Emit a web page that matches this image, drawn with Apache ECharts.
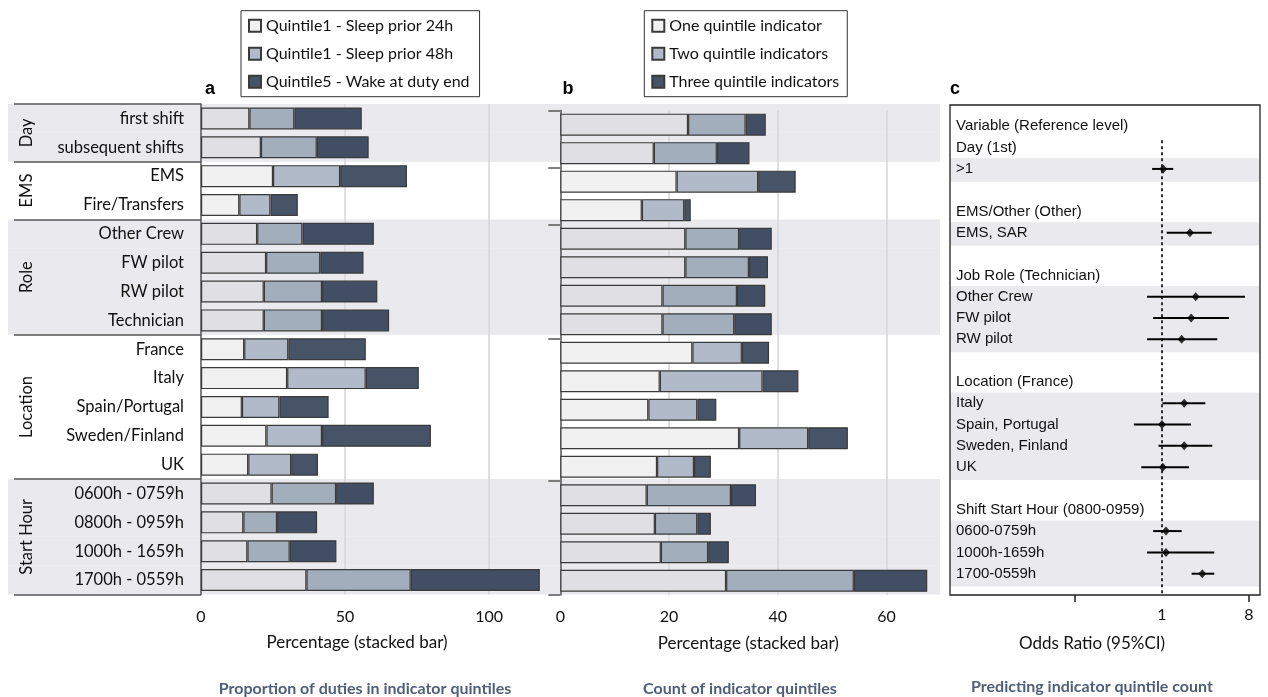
<!DOCTYPE html>
<html>
<head>
<meta charset="utf-8">
<script src="https://cdn.jsdelivr.net/npm/echarts@6/dist/echarts.min.js"></script>
<style>
  html, body { margin: 0; padding: 0; background: #ffffff; }
  #chart { width: 1268px; height: 697px; }
</style>
</head>
<body>
<div id="chart"></div>
<script>
// ---- Row categories and their groups (panels a and b) ----
const categories = [
  'first shift', 'subsequent shifts',
  'EMS', 'Fire/Transfers',
  'Other Crew', 'FW pilot', 'RW pilot', 'Technician',
  'France', 'Italy', 'Spain/Portugal', 'Sweden/Finland', 'UK',
  '0600h - 0759h', '0800h - 0959h', '1000h - 1659h', '1700h - 0559h'
];
const groupNames = ['Day', 'EMS', 'Role', 'Location', 'Start Hour'];
const groupSizes = [2, 2, 4, 5, 4];

// ---- Panel a: proportion of duties in indicator quintiles (%) ----
const seriesNamesA = ['Quintile1 - Sleep prior 24h', 'Quintile1 - Sleep prior 48h', 'Quintile5 - Wake at duty end'];
const sleep24 = [16.8, 20.8, 25.0, 13.3, 19.5, 22.6, 21.8, 21.8, 15.0, 29.9, 14.2, 22.7, 16.4, 24.5, 14.7, 16.1, 36.6];
const sleep48 = [15.6, 19.4, 23.3, 10.8, 15.7, 18.8, 20.2, 20.2, 15.3, 27.3, 13.0, 19.3, 14.9, 22.4, 11.7, 14.7, 36.2];
const wakeEnd = [23.4, 18.0, 23.2, 9.5, 24.8, 15.0, 19.2, 23.3, 26.9, 18.4, 17.1, 37.8, 9.3, 13.1, 13.9, 16.2, 44.8];

// ---- Panel b: count of indicator quintiles (%) ----
const seriesNamesB = ['One quintile indicator', 'Two quintile indicators', 'Three quintile indicators'];
const oneInd = [23.5, 17.2, 21.4, 15.0, 23.0, 23.0, 18.8, 18.8, 24.3, 18.3, 16.2, 32.9, 17.8, 15.9, 17.4, 18.5, 30.5];
const twoInd = [10.6, 11.6, 15.0, 7.8, 9.9, 11.7, 13.7, 13.2, 9.1, 18.9, 9.0, 12.7, 6.8, 15.5, 7.8, 8.7, 23.5];
const threeInd = [3.7, 6.0, 6.9, 1.2, 6.0, 3.5, 5.2, 6.9, 5.0, 6.6, 3.5, 7.3, 3.1, 4.6, 2.5, 3.8, 13.5];

// ---- Panel c: odds ratios (95% CI) ----
const orLabels = [
  'Variable (Reference level)',
  'Day (1st)', '>1', '',
  'EMS/Other (Other)', 'EMS, SAR', '',
  'Job Role (Technician)', 'Other Crew', 'FW pilot', 'RW pilot', '',
  'Location (France)', 'Italy', 'Spain, Portugal', 'Sweden, Finland', 'UK', '',
  'Shift Start Hour (0800-0959)', '0600-0759h', '1000h-1659h', '1700-0559h'
];
const orTerms = ['>1', 'EMS, SAR', 'Other Crew', 'FW pilot', 'RW pilot', 'Italy', 'Spain, Portugal',
  'Sweden, Finland', 'UK', '0600-0759h', '1000h-1659h', '1700-0559h'];
const orPoint = [1.03, 1.95, 2.24, 2.01, 1.60, 1.70, 1.00, 1.70, 1.02, 1.10, 1.10, 2.62];
const orLow   = [0.79, 1.12, 0.70, 0.81, 0.70, 1.01, 0.51, 0.92, 0.61, 0.81, 0.70, 2.03];
const orHigh  = [1.31, 3.28, 7.27, 4.96, 3.75, 2.82, 2.00, 3.33, 1.91, 1.60, 3.49, 3.49];
const orTickValues = [0.125, 8];
const orLabelValues = [1, 8];

// ---- Layout ----
const A = { left: 201, top: 104, width: 344, height: 490.5 };
const B = { left: 560.3, top: 110.4, width: 380, height: 484.6 };
const BAND = { left: 8, top: 104, width: 932, height: 490.5 };
const C = { left: 950, top: 105, width: 310, height: 490 };

const CAL = 'Lato, "Open Sans", sans-serif';
const ARIAL = '"Liberation Sans", Arial, sans-serif';
const BAND_COLOR = '#e9e9ee';
const EDGE = '#3a3a3a';

// group index for each row, and the first row of each group
const groupStarts = [];
const rowGroup = [];
groupSizes.forEach((n, g) => {
  groupStarts.push(rowGroup.length);
  for (let i = 0; i < n; i++) rowGroup.push(g);
});
const shaded = rowGroup.map(g => g % 2 === 0);

// bar fills on white rows / on shaded rows
const fills = { plain: ['#f1f1f1', '#b0bac8', '#475366'], shade: ['#e0e0e4', '#a3aebd', '#414e64'] };

function barSeries(name, values, level, xi, stack) {
  return {
    type: 'bar', name: name, stack: stack,
    xAxisIndex: xi, yAxisIndex: xi,
    barWidth: 22, z: 2,
    itemStyle: { color: fills.plain[level], borderColor: EDGE, borderWidth: 1.2 },
    emphasis: { disabled: true },
    data: values.map((v, i) => ({
      value: v,
      itemStyle: { color: shaded[i] ? fills.shade[level] : fills.plain[level] }
    }))
  };
}

// rows of panel c that carry an estimate
const orRows = orTerms.map(t => orLabels.indexOf(t) - 1);
// runs of consecutive estimate rows -> shaded bands
const runs = [];
orRows.forEach(r => {
  const last = runs[runs.length - 1];
  if (last && r === last[1] + 1) last[1] = r; else runs.push([r, r]);
});

const tickFilter = (idx) => groupStarts.indexOf(idx) >= 0;

const chart = echarts.init(document.getElementById('chart'), null, { renderer: 'canvas' });

const titleStyle = { fontFamily: CAL, fontWeight: 'bold', fontSize: 16, color: '#4f5f79' };

const option = {
  animation: false,
  backgroundColor: '#ffffff',
  title: [
    { text: 'Proportion of duties in indicator quintiles', left: 365, top: 681, padding: 0,
      textAlign: 'center', textStyle: titleStyle },
    { text: 'Count of indicator quintiles', left: 740, top: 681, padding: 0,
      textAlign: 'center', textStyle: titleStyle },
    { text: 'Predicting indicator quintile count', left: 1092, top: 679, padding: 0,
      textAlign: 'center', textStyle: titleStyle }
  ],
  legend: [
    { data: seriesNamesA, orient: 'vertical', left: 241, top: 10.7,
      padding: [5, 10, 5, 7], itemGap: 8, itemWidth: 12, itemHeight: 12, icon: 'rect',
      borderColor: '#333', borderWidth: 1, selectedMode: false,
      textStyle: { fontFamily: CAL, fontSize: 16, color: '#111', lineHeight: 20 } },
    { data: seriesNamesB, orient: 'vertical', left: 644.3, top: 10.7,
      padding: [5, 8, 5, 7], itemGap: 8, itemWidth: 12, itemHeight: 12, icon: 'rect',
      borderColor: '#333', borderWidth: 1, selectedMode: false,
      textStyle: { fontFamily: CAL, fontSize: 16, color: '#111', lineHeight: 20 } }
  ],
  grid: [
    Object.assign({ containLabel: false }, BAND),
    Object.assign({ containLabel: false }, A),
    Object.assign({ containLabel: false }, B),
    Object.assign({ containLabel: false }, C)
  ],
  xAxis: [
    { type: 'value', gridIndex: 0, min: 0, max: 1, show: false },
    { type: 'value', gridIndex: 1, min: 0, max: 119.4, interval: 50, z: 1,
      axisLine: { show: false }, axisTick: { show: false },
      splitLine: { show: true, showMinLine: false, showMaxLine: false, lineStyle: { color: '#d6d6db', width: 1.5 } },
      axisLabel: { fontFamily: CAL, fontSize: 16, color: '#111', margin: 14, showMaxLabel: false },
      name: 'Percentage (stacked bar)', nameLocation: 'middle', nameGap: 40,
      nameTextStyle: { fontFamily: CAL, fontSize: 17, color: '#111', padding: [0, 32, 0, 0] } },
    { type: 'value', gridIndex: 2, min: 0, max: 69.9, interval: 20, z: 1,
      axisLine: { show: false }, axisTick: { show: false },
      splitLine: { show: true, showMinLine: false, showMaxLine: false, lineStyle: { color: '#d6d6db', width: 1.5 } },
      axisLabel: { fontFamily: CAL, fontSize: 16, color: '#111', margin: 14, showMaxLabel: false },
      name: 'Percentage (stacked bar)', nameLocation: 'middle', nameGap: 40,
      nameTextStyle: { fontFamily: CAL, fontSize: 17, color: '#111', padding: [0, 4, 0, 0] } },
    { type: 'log', logBase: 2, gridIndex: 3, min: Math.pow(2, -7.31), max: Math.pow(2, 3.38), z: 3,
      position: 'bottom',
      axisLine: { show: false, onZero: false },
      axisTick: { show: true, customValues: orTickValues, length: 7, lineStyle: { color: '#222', width: 1.5 } },
      splitLine: { show: false },
      axisLabel: { customValues: orLabelValues, fontFamily: CAL, fontSize: 16, color: '#111', margin: 12 },
      name: 'Odds Ratio (95%CI)', nameLocation: 'middle', nameGap: 40,
      nameTextStyle: { fontFamily: CAL, fontSize: 17, color: '#111', padding: [0, 26, 0, 0] } }
  ],
  yAxis: [
    { type: 'category', gridIndex: 0, data: categories, inverse: true, show: false },
    { type: 'category', gridIndex: 1, data: categories, inverse: true, z: 1,
      axisLine: { show: true, lineStyle: { color: '#555', width: 1.5 } },
      axisTick: { show: true, length: 187, interval: tickFilter, lineStyle: { color: '#555', width: 1.5 } },
      axisLabel: { fontFamily: CAL, fontSize: 16.5, color: '#111', margin: 17, interval: 0 } },
    { type: 'category', gridIndex: 2, data: categories, inverse: true, z: 1,
      axisLine: { show: true, lineStyle: { color: '#555', width: 1.5 } },
      axisTick: { show: true, length: 12, interval: tickFilter, lineStyle: { color: '#555', width: 1.5 } },
      axisLabel: { show: false } },
    { type: 'value', gridIndex: 3, min: -2, max: 21, interval: 1, inverse: true, z: 3,
      axisLine: { show: false }, axisTick: { show: false }, splitLine: { show: false },
      axisLabel: { inside: true, margin: 6, fontFamily: ARIAL, fontSize: 15, color: '#111',
        showMinLabel: false, showMaxLabel: false,
        formatter: (v) => orLabels[v + 1] || '' } }
  ],
  series: [
    // shaded group bands behind panels a and b
    { type: 'bar', xAxisIndex: 0, yAxisIndex: 0, barCategoryGap: '0%', z: 0, silent: true,
      itemStyle: { color: BAND_COLOR }, emphasis: { disabled: true },
      data: shaded.map(s => (s ? 1 : 0)) },

    barSeries(seriesNamesA[0], sleep24, 0, 1, 'a'),
    barSeries(seriesNamesA[1], sleep48, 1, 1, 'a'),
    barSeries(seriesNamesA[2], wakeEnd, 2, 1, 'a'),

    barSeries(seriesNamesB[0], oneInd, 0, 2, 'b'),
    barSeries(seriesNamesB[1], twoInd, 1, 2, 'b'),
    barSeries(seriesNamesB[2], threeInd, 2, 2, 'b'),

    // confidence intervals
    { type: 'custom', xAxisIndex: 3, yAxisIndex: 3, silent: true, z: 3,
      data: orLow.map((lo, i) => [lo, orHigh[i], orRows[i]]),
      encode: { x: [0, 1], y: 2 },
      renderItem: (params, api) => {
        const p1 = api.coord([api.value(0), api.value(2)]);
        const p2 = api.coord([api.value(1), api.value(2)]);
        return { type: 'line', shape: { x1: p1[0], y1: p1[1], x2: p2[0], y2: p2[1] },
          style: { stroke: '#000', lineWidth: 2 } };
      },
      markArea: { silent: true, itemStyle: { color: BAND_COLOR },
        data: runs.map(r => [{ yAxis: r[0] - 0.5 }, { yAxis: r[1] + 0.6 }]) } },

    // point estimates and the reference line at OR = 1
    { type: 'scatter', xAxisIndex: 3, yAxisIndex: 3, silent: true, z: 4,
      symbol: 'diamond', symbolSize: [8, 9], itemStyle: { color: '#000' },
      data: orPoint.map((v, i) => [v, orRows[i]]),
      markLine: { silent: true, symbol: ['none', 'none'], label: { show: false },
        lineStyle: { color: '#000', width: 1.6, type: [3, 3] },
        data: [[{ coord: [1, -0.35] }, { coord: [1, 21] }]] } }
  ]
};

chart.setOption(option);

// Group labels beside the row labels, centred on each group's rows
const groupTexts = groupNames.map((name, g) => {
  const y0 = chart.convertToPixel({ yAxisIndex: 1 }, categories[groupStarts[g]]);
  const y1 = chart.convertToPixel({ yAxisIndex: 1 }, categories[groupStarts[g] + groupSizes[g] - 1]);
  return {
    type: 'text', x: 27, y: (y0 + y1) / 2, rotation: Math.PI / 2, z: 20,
    style: { text: name, fontFamily: CAL, fontSize: 16.5, fill: '#111', align: 'center', verticalAlign: 'middle' }
  };
});

chart.setOption({
  graphic: groupTexts.concat([
    { type: 'text', x: 210, y: 89, z: 20,
      style: { text: 'a', fontFamily: ARIAL, fontWeight: 'bold', fontSize: 18, fill: '#000', align: 'center', verticalAlign: 'middle' } },
    { type: 'text', x: 568, y: 89, z: 20,
      style: { text: 'b', fontFamily: ARIAL, fontWeight: 'bold', fontSize: 18, fill: '#000', align: 'center', verticalAlign: 'middle' } },
    { type: 'text', x: 955, y: 89, z: 20,
      style: { text: 'c', fontFamily: ARIAL, fontWeight: 'bold', fontSize: 18, fill: '#000', align: 'center', verticalAlign: 'middle' } },
    { type: 'rect', z: 20, silent: true,
      shape: { x: C.left, y: C.top, width: C.width, height: C.height },
      style: { fill: 'none', stroke: '#222', lineWidth: 1.3 } }
  ])
});
</script>
</body>
</html>
